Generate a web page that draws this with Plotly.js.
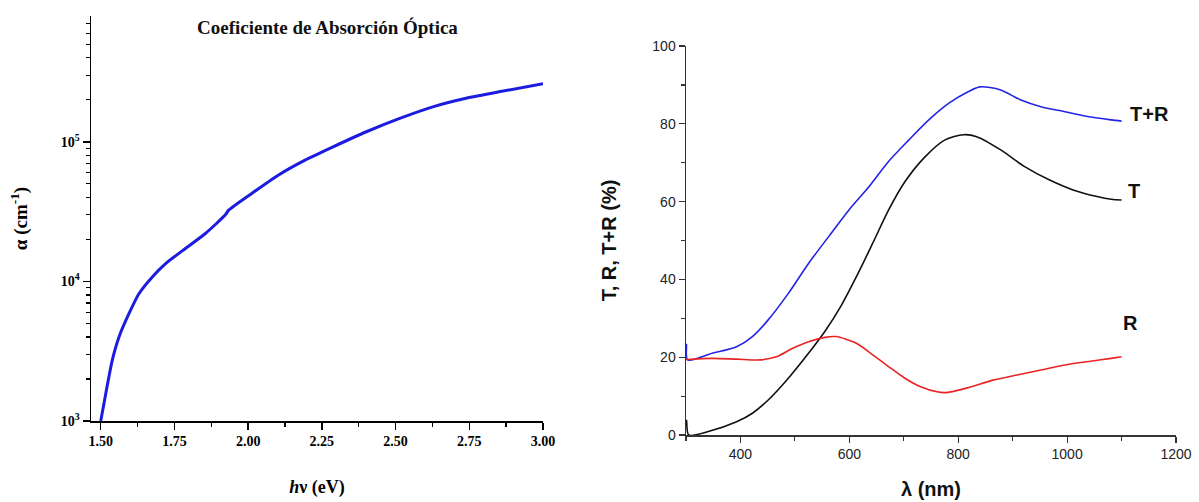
<!DOCTYPE html>
<html>
<head>
<meta charset="utf-8">
<script src="https://cdn.plot.ly/plotly-3.0.1.min.js"></script>
<style>html,body{margin:0;padding:0;background:#fff;}#chart{width:1199px;height:502px;}</style>
</head>
<body>
<div id="chart"></div>
<script>
// Left panel: absorption coefficient vs photon energy
const energyEv = [1.500, 1.517, 1.539, 1.562, 1.596, 1.630, 1.675, 1.720, 1.787, 1.855, 1.922, 1.934, 2.012, 2.102, 2.193, 2.288, 2.401, 2.514, 2.626, 2.739, 2.851, 3.000];
const alphaCm = [1000, 1570, 2720, 4000, 5890, 8190, 10770, 13420, 17200, 22040, 29850, 32370, 42650, 57680, 73900, 92000, 118000, 147000, 178000, 205000, 228000, 260000];

// Right panel: T, R, T+R vs wavelength
const wlTR = [300, 301, 303, 348, 393, 422, 451, 488, 525, 562, 599, 636, 672, 709, 746, 783, 819, 840, 878, 915, 952, 996, 1040, 1081, 1100];
const valTR = [22.5, 23.3, 19.3, 21.0, 22.7, 25.3, 29.6, 36.4, 44.1, 51.0, 57.8, 63.8, 70.3, 75.8, 81.0, 85.3, 88.3, 89.5, 88.7, 86.1, 84.4, 83.1, 81.8, 81.0, 80.7];
const wlT = [300, 301, 305, 341, 393, 422, 451, 488, 525, 555, 584, 613, 643, 672, 702, 739, 775, 810, 834, 878, 922, 967, 1011, 1055, 1081, 1100];
const valT = [2.5, 3.8, 0.0, 0.9, 3.4, 5.6, 9.0, 14.6, 21.0, 26.6, 33.0, 40.7, 49.3, 57.8, 65.1, 71.5, 75.8, 77.2, 76.7, 73.3, 69.0, 65.6, 63.0, 61.3, 60.6, 60.4];
const wlR = [300, 348, 393, 437, 466, 496, 525, 555, 575, 613, 643, 672, 702, 731, 761, 778, 819, 864, 908, 952, 996, 1040, 1081, 1100];
const valR = [19.4, 19.7, 19.5, 19.3, 20.1, 22.3, 24.0, 25.1, 25.3, 23.6, 20.6, 17.6, 14.6, 12.4, 11.1, 10.9, 12.2, 14.1, 15.4, 16.7, 18.0, 18.9, 19.7, 20.1];

const xTickVals = [1.50, 1.75, 2.00, 2.25, 2.50, 2.75, 3.00];
const yLogTickVals = [1e3, 1e4, 1e5];
const yLogTickText = ['10<sup>3</sup>', '10<sup>4</sup>', '10<sup>5</sup>'];
const yLogMinor = [2e3,3e3,4e3,5e3,6e3,7e3,8e3,9e3,2e4,3e4,4e4,5e4,6e4,7e4,8e4,9e4,2e5,3e5,4e5,5e5,6e5,7e5];

const serif = 'Liberation Serif, Times New Roman, serif';
const sans = 'Liberation Sans, Arial, sans-serif';

const traces = [
  {x: energyEv, y: alphaCm, xaxis: 'x', yaxis: 'y', mode: 'lines', line: {color: '#1c1ce0', width: 3, shape: 'spline', smoothing: 0.6}, hoverinfo: 'skip'},
  {x: wlTR, y: valTR, xaxis: 'x2', yaxis: 'y2', mode: 'lines', line: {color: '#2424e6', width: 1.6, shape: 'spline', smoothing: 0.8}, hoverinfo: 'skip'},
  {x: wlT, y: valT, xaxis: 'x2', yaxis: 'y2', mode: 'lines', line: {color: '#111111', width: 1.6, shape: 'spline', smoothing: 0.8}, hoverinfo: 'skip'},
  {x: wlR, y: valR, xaxis: 'x2', yaxis: 'y2', mode: 'lines', line: {color: '#e82424', width: 1.6, shape: 'spline', smoothing: 0.8}, hoverinfo: 'skip'}
];

const layout = {
  width: 1199, height: 502,
  margin: {l: 0, r: 0, t: 0, b: 0, autoexpand: false},
  paper_bgcolor: '#ffffff', plot_bgcolor: 'rgba(0,0,0,0)',
  showlegend: false,
  xaxis: {
    domain: [91/1199, 543/1199], range: [1.467, 3.0],
    tickmode: 'array', tickvals: xTickVals, ticktext: xTickVals.map(v => v.toFixed(2)),
    ticks: 'outside', ticklen: 7, tickwidth: 1.5, tickcolor: '#000',
    minor: {ticks: 'outside', ticklen: 4, tickwidth: 1.5, tickcolor: '#000', tickmode: 'array', tickvals: [1.625, 1.875, 2.125, 2.375, 2.625, 2.875]},
    showline: true, linecolor: '#000', linewidth: 1.5, showgrid: false, zeroline: false,
    tickfont: {family: serif, size: 14, color: '#000', weight: 'bold'},
    title: {text: '<b><i>h</i>ν (eV)</b>', font: {family: serif, size: 18, color: '#000'}, standoff: 32}
  },
  yaxis: {
    domain: [81/502, 486/502], type: 'log', range: [3, 5.901],
    tickmode: 'array', tickvals: yLogTickVals, ticktext: yLogTickText,
    ticks: 'outside', ticklen: 7, tickwidth: 1.5, tickcolor: '#000',
    minor: {ticks: 'outside', ticklen: 4, tickwidth: 1.2, tickcolor: '#000', tickmode: 'array', tickvals: yLogMinor},
    showline: true, linecolor: '#000', linewidth: 1.5, showgrid: false, zeroline: false,
    tickfont: {family: serif, size: 14, color: '#000', weight: 'bold'},
    title: {text: '<b>α (cm<sup>-1</sup>)</b>', font: {family: serif, size: 19, color: '#000'}, standoff: 28}
  },
  xaxis2: {
    anchor: 'y2', domain: [686/1199, 1176/1199], range: [300, 1200],
    tickmode: 'array', tickvals: [400, 600, 800, 1000, 1200],
    ticks: 'outside', ticklen: 6, tickwidth: 1.2, tickcolor: '#333',
    minor: {ticks: 'outside', ticklen: 4, tickwidth: 1.2, tickcolor: '#333', tickmode: 'array', tickvals: [300, 500, 700, 900, 1100]},
    showline: true, linecolor: '#333', linewidth: 1.5, showgrid: false, zeroline: false,
    tickfont: {family: sans, size: 14, color: '#222'},
    title: {text: '<b>λ (nm)</b>', font: {family: sans, size: 20, color: '#111'}, standoff: 20}
  },
  yaxis2: {
    anchor: 'x2', domain: [67/502, 456/502], range: [0, 100],
    tickmode: 'array', tickvals: [0, 20, 40, 60, 80, 100],
    ticks: 'outside', ticklen: 6, tickwidth: 1.2, tickcolor: '#333',
    minor: {ticks: 'outside', ticklen: 4, tickwidth: 1.2, tickcolor: '#333', tickmode: 'array', tickvals: [10, 30, 50, 70, 90]},
    showline: true, linecolor: '#333', linewidth: 1.5, showgrid: false, zeroline: false,
    tickfont: {family: sans, size: 14, color: '#222'},
    title: {text: '<b>T, R, T+R (%)</b>', font: {family: sans, size: 20, color: '#111'}, standoff: 30}
  },
  annotations: [
    {xref: 'paper', yref: 'paper', x: 327/1199, y: (502-28)/502, xanchor: 'center', yanchor: 'middle', showarrow: false,
     text: '<b>Coeficiente de Absorción Óptica</b>', font: {family: serif, size: 19, color: '#111'}},
    {xref: 'x2', yref: 'y2', x: 1152, y: 82.5, xanchor: 'center', yanchor: 'middle', showarrow: false,
     text: '<b>T+R</b>', font: {family: sans, size: 20, color: '#111'}},
    {xref: 'x2', yref: 'y2', x: 1123, y: 62.8, xanchor: 'center', yanchor: 'middle', showarrow: false,
     text: '<b>T</b>', font: {family: sans, size: 20, color: '#111'}},
    {xref: 'x2', yref: 'y2', x: 1117, y: 28.8, xanchor: 'center', yanchor: 'middle', showarrow: false,
     text: '<b>R</b>', font: {family: sans, size: 20, color: '#111'}}
  ]
};

Plotly.newPlot('chart', traces, layout, {staticPlot: true, displayModeBar: false});
</script>
</body>
</html>
